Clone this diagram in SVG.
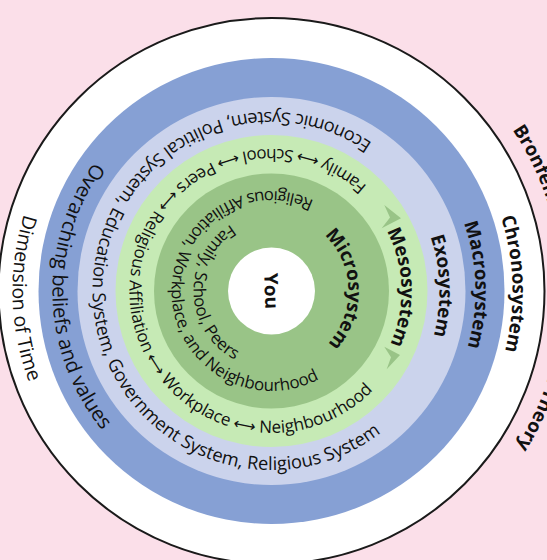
<svg xmlns="http://www.w3.org/2000/svg" width="547" height="560" viewBox="0 0 547 560">
<defs>
<style>
.t{font-family:"Open Sans","Noto Sans","DejaVu Sans",sans-serif;fill:#111;}
.r{font-size:18.3px;}
.l{font-size:19.5px;}
.o{font-size:20.2px;}
.m{font-size:17px;}
.s{font-size:16.8px;}
.b{font-size:18.8px;font-weight:bold;}
.a{font-family:"DejaVu Sans",sans-serif;font-size:15.5px;}
</style>
<path id="pDim" d="M 530.5 291 A 259 259 0 1 0 12.5 291 A 259 259 0 1 0 530.5 291"/>
<path id="pOver" d="M 490.5 291 A 219 219 0 1 0 52.5 291 A 219 219 0 1 0 490.5 291"/>
<path id="pEco" d="M 450.5 291 A 179 179 0 1 0 92.5 291 A 179 179 0 1 0 450.5 291"/>
<path id="pMeso" d="M 413.5 291 A 142 142 0 1 0 129.5 291 A 142 142 0 1 0 413.5 291"/>
<path id="pMic1" d="M 371.5 291 A 100 100 0 1 0 171.5 291 A 100 100 0 1 0 371.5 291"/>
<path id="pMic2" d="M 349.5 291 A 78 78 0 1 0 193.5 291 A 78 78 0 1 0 349.5 291"/>
<path id="lMic" d="M 310 224.32 A 77 77 0 0 1 310 357.68"/>
<path id="lMes" d="M 336.5 178.42 A 130 130 0 0 1 336.5 403.58"/>
<path id="lExo" d="M 355.5 145.51 A 168 168 0 0 1 355.5 436.49"/>
<path id="lMac" d="M 373.5 114.34 A 204 204 0 0 1 373.5 467.66"/>
<path id="lChr" d="M 392 82.29 A 241 241 0 0 1 392 499.71"/>
<path id="pTitle" d="M 416.5 39.85 A 290 290 0 0 1 416.5 542.15"/>
</defs>
<rect x="0" y="0" width="547" height="560" fill="#fbdfe9"/>

<g id="chronosystem">
<circle cx="271.5" cy="291" r="273" fill="#ffffff" stroke="#1a1a1a" stroke-width="2"/>
</g>
<g id="macrosystem">
<circle cx="271.5" cy="291" r="233" fill="#86a0d4"/>
</g>
<g id="exosystem">
<circle cx="271.5" cy="291" r="194" fill="#cbd3ec"/>
</g>
<g id="mesosystem">
<circle cx="271.5" cy="291" r="156" fill="#c6eab5"/>
</g>
<g id="microsystem">
<circle cx="271.5" cy="291" r="117.5" fill="#99c487"/>
</g>
<g id="you">
<circle cx="271.5" cy="291" r="43.5" fill="#ffffff"/>
</g>

<g id="connectors" fill="#99c487">
<polygon points="384.3,205 401,218.3 381.7,228.3 390,217.5"/>
<polygon points="384.3,346.7 400,355 386.7,369.3 391,357.3"/>
</g>

<g id="labels" class="t" transform="rotate(-1.7 271.5 291)">
<text class="l"><textPath href="#pDim" startOffset="50%" text-anchor="middle">Dimension of Time</textPath></text>
<text class="o"><textPath href="#pOver" startOffset="50%" text-anchor="middle">Overarching beliefs and values</textPath></text>
<text class="r"><textPath href="#pEco" startOffset="50%" text-anchor="middle">Economic System, Political System, Education System, Government System, Religious System</textPath></text>
<text class="m"><textPath href="#pMeso" startOffset="50%" text-anchor="middle">Family <tspan class="a">⟷</tspan> School <tspan class="a">⟷</tspan> Peers <tspan class="a">⟷</tspan> Religious Affiliation <tspan class="a">⟷</tspan> Workplace <tspan class="a">⟷</tspan> Neighbourhood</textPath></text>
<text class="s"><textPath href="#pMic1" startOffset="50%" text-anchor="middle">Religious Affiliation, Workplace, and Neighbourhood</textPath></text>
<text class="s"><textPath href="#pMic2" startOffset="50%" text-anchor="middle">Family, School, Peers</textPath></text>
<text class="b"><textPath href="#lMic" startOffset="50%" text-anchor="middle">Microsystem</textPath></text>
<text class="b"><textPath href="#lMes" startOffset="50%" text-anchor="middle">Mesosystem</textPath></text>
<text class="b"><textPath href="#lExo" startOffset="50%" text-anchor="middle">Exosystem</textPath></text>
<text class="b"><textPath href="#lMac" startOffset="50%" text-anchor="middle">Macrosystem</textPath></text>
<text class="b"><textPath href="#lChr" startOffset="50%" text-anchor="middle">Chronosystem</textPath></text>
<text class="b" transform="translate(271.5 291) rotate(90)" x="0" y="6.7" text-anchor="middle">You</text>
</g>
<g id="title" class="t">
<text class="b"><textPath href="#pTitle" startOffset="132.6" textLength="335" lengthAdjust="spacing">Bronfenbrenner's Ecological Theory</textPath></text>
</g>
</svg>
